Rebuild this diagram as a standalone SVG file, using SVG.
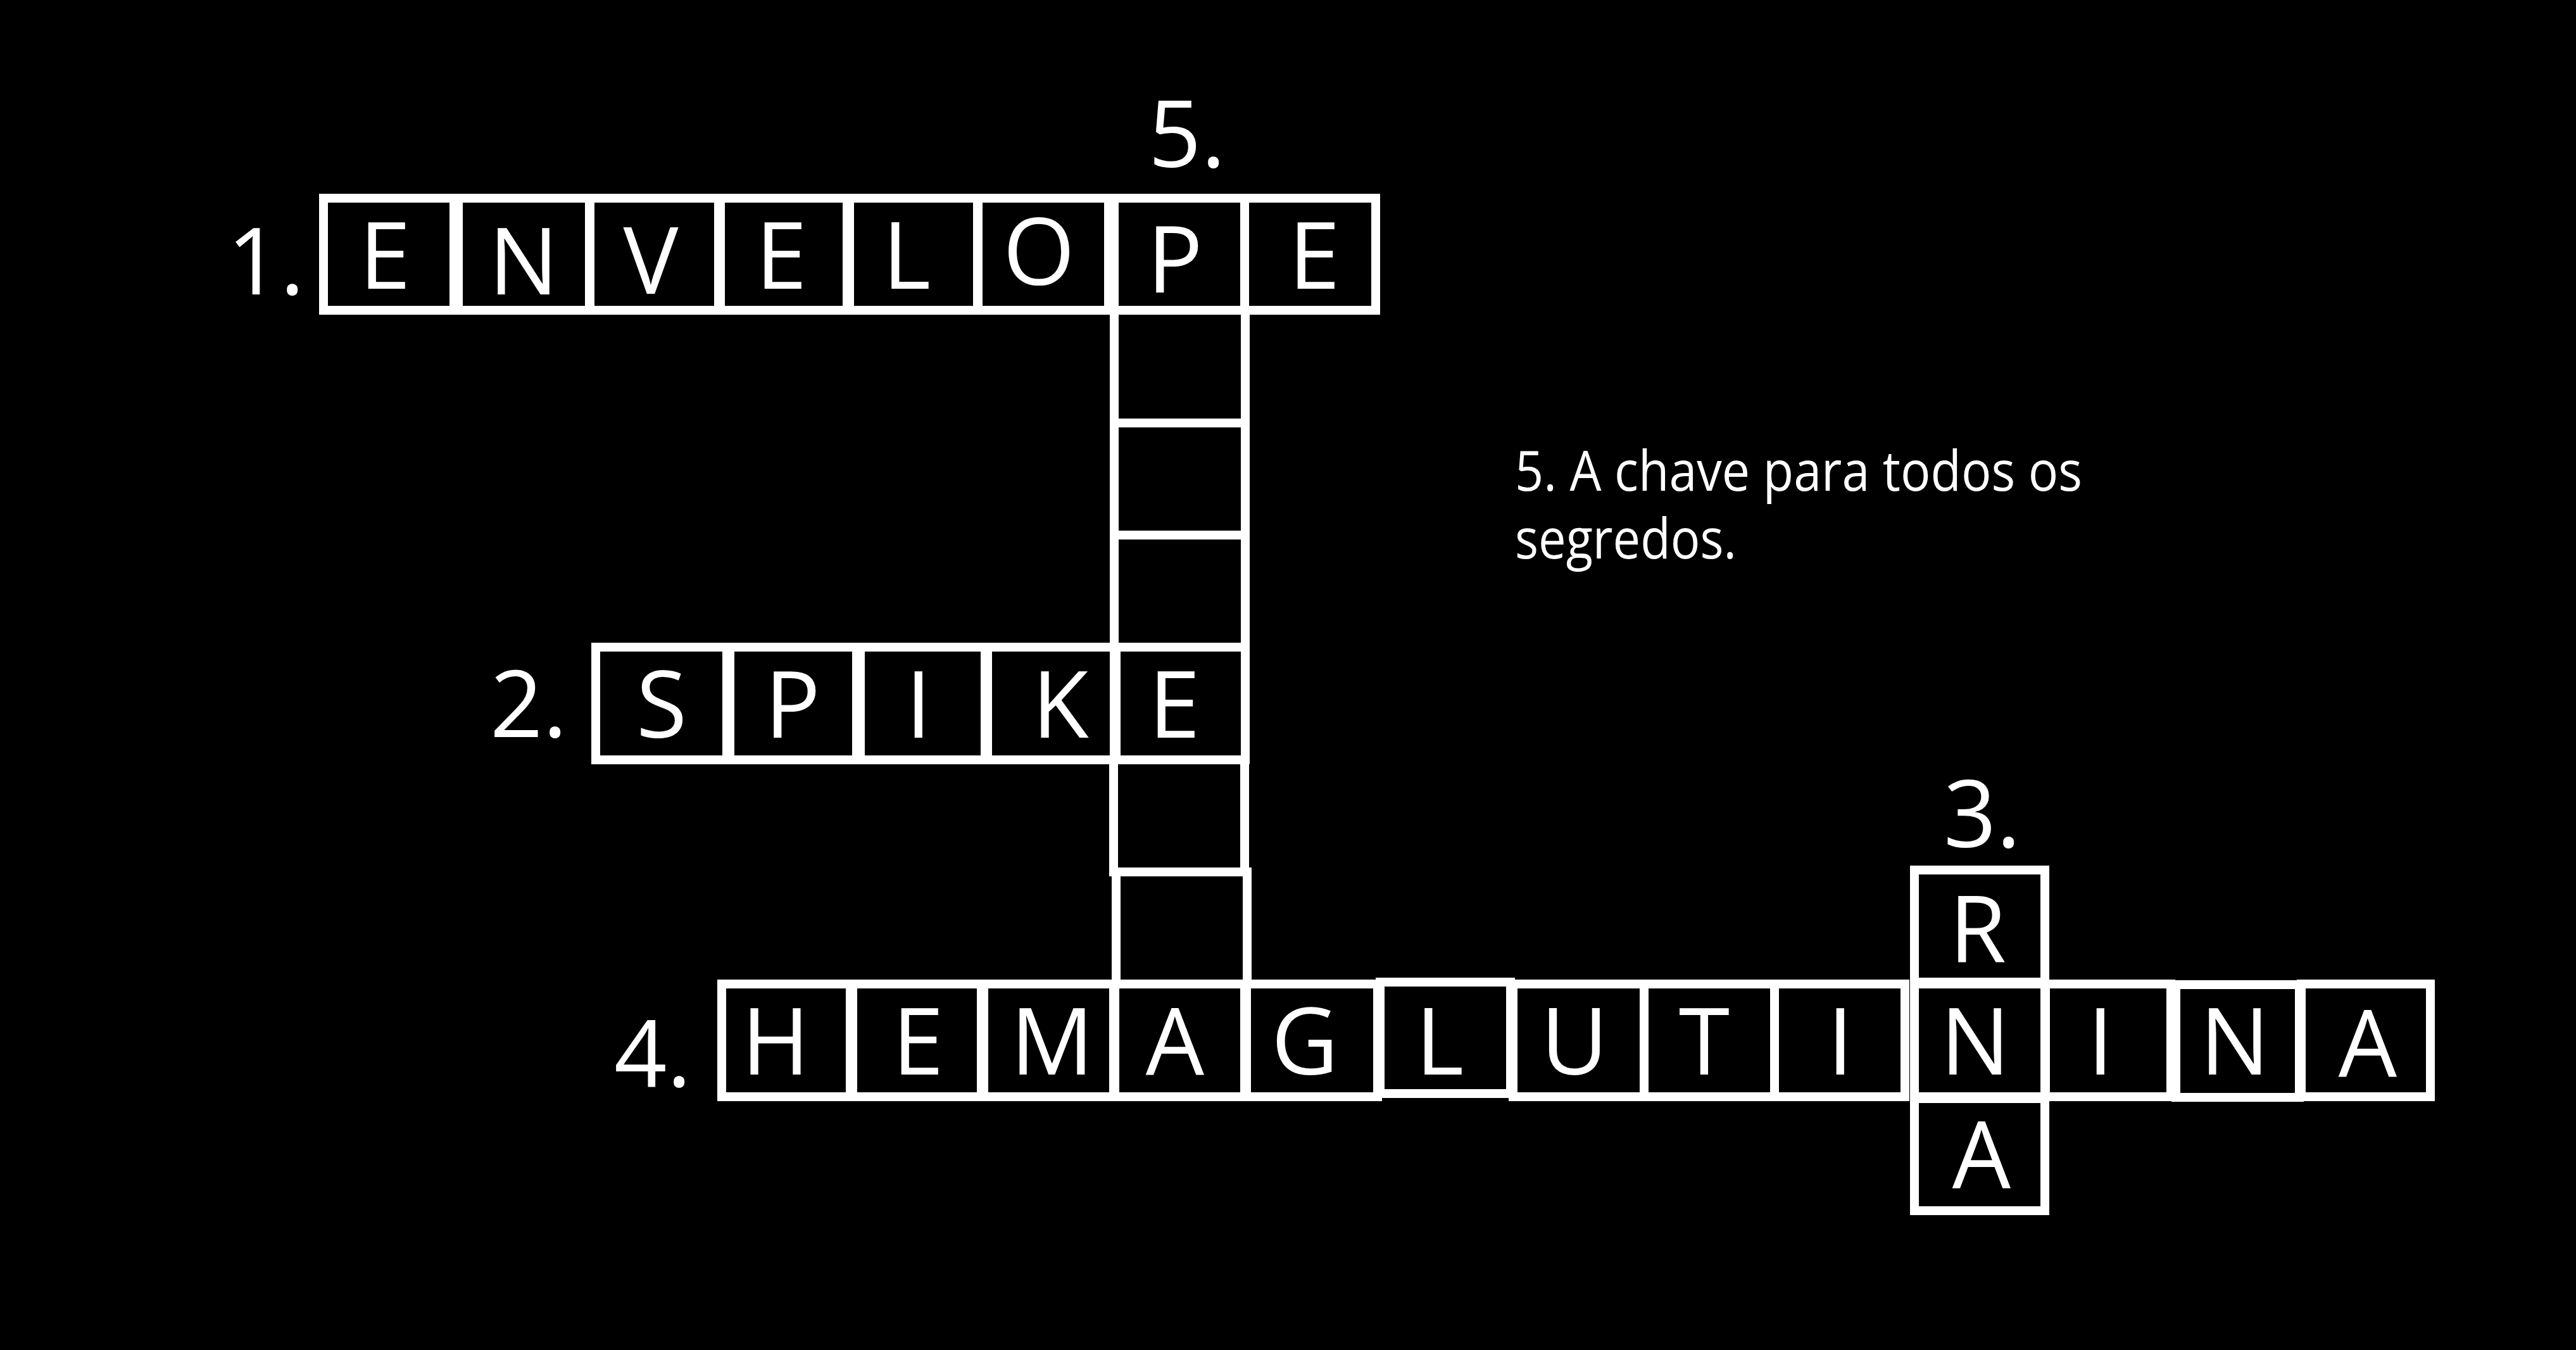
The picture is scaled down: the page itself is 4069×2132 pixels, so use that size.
<svg xmlns="http://www.w3.org/2000/svg" width="4069" height="2132" viewBox="0 0 4069 2132">
<style>
.cell{fill:none;stroke:#ffffff;stroke-width:14}
.t{font-family:'Open Sans','Noto Sans','DejaVu Sans',sans-serif;font-size:146px;fill:#ffffff;text-anchor:middle}
.clue{font-family:'Open Sans','Noto Sans','DejaVu Sans',sans-serif;font-size:88px;fill:#ffffff}
</style>
<rect x="0" y="0" width="4069" height="2132" fill="#000000"/>
<g id="word1">
<rect class="cell" x="511" y="313" width="206" height="177"/>
<rect class="cell" x="724" y="313" width="207" height="177"/>
<rect class="cell" x="932" y="313" width="203" height="177"/>
<rect class="cell" x="1138" y="313" width="200" height="177"/>
<rect class="cell" x="1342" y="313" width="202" height="177"/>
<rect class="cell" x="1545" y="313" width="206" height="177"/>
<rect class="cell" x="1760" y="313" width="206" height="177"/>
<rect class="cell" x="1966" y="313" width="207" height="177"/>
<text class="t" x="420" y="465">1.</text>
<text class="t" x="608" y="456">E</text>
<text class="t" x="827" y="465">N</text>
<text class="t" x="1028" y="464">V</text>
<text class="t" x="1234" y="456">E</text>
<text class="t" x="1432" y="456">L</text>
<text class="t" x="1641" y="450">O</text>
<text class="t" x="1856" y="462">P</text>
<text class="t" x="2076" y="456">E</text>
</g>
<g id="word5">
<text class="t" x="1875" y="264">5.</text>
<rect class="cell" x="1760" y="490" width="207" height="178"/>
<rect class="cell" x="1760" y="668" width="207" height="177"/>
<rect class="cell" x="1760" y="845" width="207" height="177"/>
<rect class="cell" x="1759" y="1200" width="207" height="177"/>
<rect class="cell" x="1763" y="1377" width="207" height="177"/>
</g>
<g id="word2">
<rect class="cell" x="941" y="1022" width="207" height="178"/>
<rect class="cell" x="1153" y="1022" width="200" height="178"/>
<rect class="cell" x="1359" y="1022" width="197" height="178"/>
<rect class="cell" x="1560" y="1022" width="200" height="178"/>
<rect class="cell" x="1763" y="1022" width="204" height="178"/>
<text class="t" x="835" y="1164">2.</text>
<text class="t" x="1045" y="1165">S</text>
<text class="t" x="1252" y="1165">P</text>
<text class="t" x="1451" y="1165">I</text>
<text class="t" x="1675" y="1165">K</text>
<text class="t" x="1855" y="1165">E</text>
</g>
<g id="word4">
<rect class="cell" x="1140" y="1554" width="203" height="178"/>
<rect class="cell" x="1347" y="1554" width="203" height="178"/>
<rect class="cell" x="1554" y="1554" width="205" height="178"/>
<rect class="cell" x="1761" y="1554" width="205" height="178"/>
<rect class="cell" x="1969" y="1554" width="207" height="178"/>
<rect class="cell" x="2180" y="1551" width="206" height="176"/>
<rect class="cell" x="2390" y="1554" width="207" height="178"/>
<rect class="cell" x="2597" y="1554" width="206" height="178"/>
<rect class="cell" x="2803" y="1554" width="206" height="178"/>
<rect class="cell" x="3024" y="1554" width="206" height="178"/>
<rect class="cell" x="3231" y="1554" width="198" height="178"/>
<rect class="cell" x="3437" y="1555" width="195" height="178"/>
<rect class="cell" x="3635" y="1554" width="204" height="178"/>
<text class="t" x="1031" y="1716">4.</text>
<text class="t" x="1225" y="1697">H</text>
<text class="t" x="1450" y="1697">E</text>
<text class="t" x="1662" y="1697">M</text>
<text class="t" x="1856" y="1697">A</text>
<text class="t" x="2061" y="1697">G</text>
<text class="t" x="2274" y="1697">L</text>
<text class="t" x="2487" y="1697">U</text>
<text class="t" x="2692" y="1697">T</text>
<text class="t" x="2907" y="1697">I</text>
<text class="t" x="3120" y="1697">N</text>
<text class="t" x="3318" y="1697">I</text>
<text class="t" x="3530" y="1697">N</text>
<text class="t" x="3740" y="1700">A</text>
</g>
<g id="word3">
<text class="t" x="3131" y="1338">3.</text>
<rect class="cell" x="3024" y="1374" width="206" height="177"/>
<rect class="cell" x="3024" y="1735" width="206" height="177"/>
<text class="t" x="3124" y="1520">R</text>
<text class="t" x="3130" y="1876">A</text>
</g>
<g id="clue5">
<text class="clue"><tspan x="2393" y="775" textLength="896" lengthAdjust="spacingAndGlyphs">5. A chave para todos os</tspan><tspan x="2393" y="882" textLength="350" lengthAdjust="spacingAndGlyphs">segredos.</tspan></text>
</g>
<g id="connectors"/>
</svg>
